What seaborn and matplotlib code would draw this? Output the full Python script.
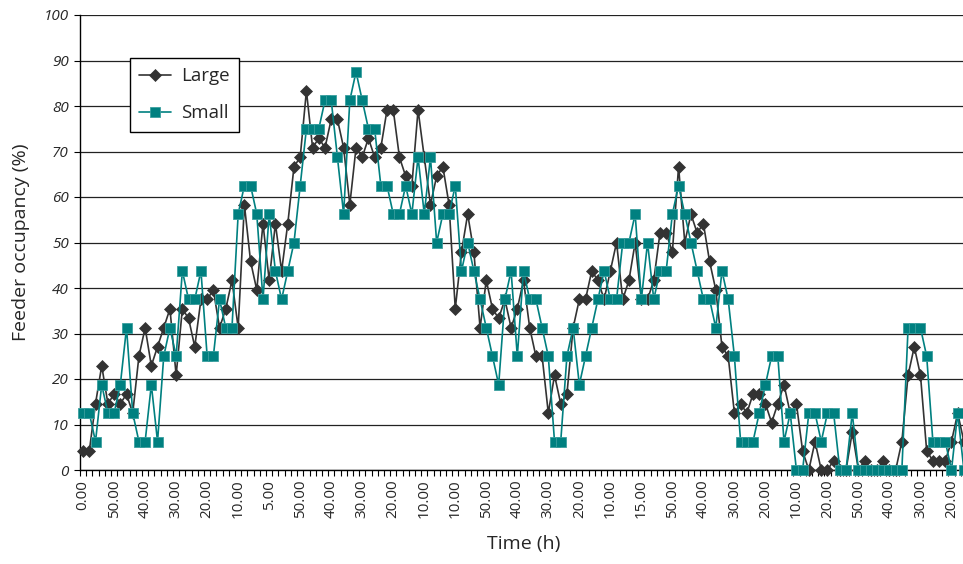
import matplotlib
matplotlib.use("Agg")
import matplotlib.pyplot as plt
import seaborn as sns
import pandas as pd
import numpy as np

# feeder occupancy (%) per time slot
large = [4.17, 4.17, 14.58, 22.92, 14.58, 16.67, 14.58, 16.67, 12.5, 25,
         31.25, 22.92, 27.08, 31.25, 35.42, 20.83, 35.42, 33.33, 27.08, 37.5,
         37.5, 39.58, 31.25, 35.42, 41.67, 31.25, 58.33, 45.83, 39.58, 54.17,
         41.67, 54.17, 43.75, 54.17, 66.67, 68.75, 83.33, 70.83, 72.92, 70.83,
         77.08, 77.08, 70.83, 58.33, 70.83, 68.75, 72.92, 68.75, 70.83, 79.17,
         79.17, 68.75, 64.58, 62.5, 79.17, 68.75, 58.33, 64.58, 66.67, 58.33,
         35.42, 47.92, 56.25, 47.92, 31.25, 41.67, 35.42, 33.33, 37.5, 31.25,
         35.42, 41.67, 31.25, 25, 25, 12.5, 20.83, 14.58, 16.67, 31.25,
         37.5, 37.5, 43.75, 41.67, 37.5, 43.75, 50, 37.5, 41.67, 50,
         37.5, 37.5, 41.67, 52.08, 52.08, 47.92, 66.67, 50, 56.25, 52.08,
         54.17, 45.83, 39.58, 27.08, 25, 12.5, 14.58, 12.5, 16.67, 16.67,
         14.58, 10.42, 14.58, 18.75, 12.5, 14.58, 4.17, 0, 6.25, 0,
         0, 2.08, 0, 0, 8.33, 0, 2.08, 0, 0, 2.08,
         0, 0, 6.25, 20.83, 27.08, 20.83, 4.17, 2.08, 2.08, 2.08,
         6.25, 12.5, 6.25]
small = [12.5, 12.5, 6.25, 18.75, 12.5, 12.5, 18.75, 31.25, 12.5, 6.25,
         6.25, 18.75, 6.25, 25, 31.25, 25, 43.75, 37.5, 37.5, 43.75,
         25, 25, 37.5, 31.25, 31.25, 56.25, 62.5, 62.5, 56.25, 37.5,
         56.25, 43.75, 37.5, 43.75, 50, 62.5, 75, 75, 75, 81.25,
         81.25, 68.75, 56.25, 81.25, 87.5, 81.25, 75, 75, 62.5, 62.5,
         56.25, 56.25, 62.5, 56.25, 68.75, 56.25, 68.75, 50, 56.25, 56.25,
         62.5, 43.75, 50, 43.75, 37.5, 31.25, 25, 18.75, 37.5, 43.75,
         25, 43.75, 37.5, 37.5, 31.25, 25, 6.25, 6.25, 25, 31.25,
         18.75, 25, 31.25, 37.5, 43.75, 37.5, 37.5, 50, 50, 56.25,
         37.5, 50, 37.5, 43.75, 43.75, 56.25, 62.5, 56.25, 50, 43.75,
         37.5, 37.5, 31.25, 43.75, 37.5, 25, 6.25, 6.25, 6.25, 12.5,
         18.75, 25, 25, 6.25, 12.5, 0, 0, 12.5, 12.5, 6.25,
         12.5, 12.5, 0, 0, 12.5, 0, 0, 0, 0, 0,
         0, 0, 0, 31.25, 31.25, 31.25, 25, 6.25, 6.25, 6.25,
         0, 12.5, 0]
time_labels = ["0.00", "50.00", "40.00", "30.00", "20.00", "10.00", "5.00",
               "50.00", "40.00", "30.00", "20.00", "10.00", "10.00", "50.00",
               "40.00", "30.00", "20.00", "10.00", "15.00", "50.00", "40.00",
               "30.00", "20.00", "10.00", "20.00", "50.00", "40.00", "30.00",
               "20.00"]

sns.set_theme(style="white")
plt.rcParams['font.family'] = ['Open Sans', 'DejaVu Sans']

n = len(large)
df = pd.DataFrame({"slot": np.arange(n), "Large": large, "Small": small})

fig = plt.figure(figsize=(9.63, 5.64), dpi=100)
# plot area runs a little past the right edge, like the reference crop
ax = fig.add_axes([80 / 963, 94 / 564, 887 / 963, 455 / 564])

sns.lineplot(data=df, x="slot", y="Large", ax=ax, color="#333333", marker="D",
             markersize=6.3, markeredgecolor="#333333", markeredgewidth=0.5,
             linewidth=1.2, label="Large", clip_on=False, zorder=3)
sns.lineplot(data=df, x="slot", y="Small", ax=ax, color="#008080", marker="s",
             markersize=6.5, markeredgecolor="#3a9f9f", markeredgewidth=0.6,
             linewidth=1.2, label="Small", clip_on=False, zorder=4)

ax.set_xlim(-0.5, n - 0.5)
ax.set_ylim(0, 100)
ax.set_yticks(range(0, 101, 10))
ax.set_yticklabels([str(v) for v in range(0, 101, 10)], fontsize=11, style="italic")
ax.yaxis.grid(True, color="#222222", linewidth=0.9)
ax.set_axisbelow(True)

ax.set_xticks(np.arange(0, n, 5))
ax.set_xticklabels(time_labels, rotation=90, fontsize=11)
ax.set_xticks(np.arange(-0.5, n, 1), minor=True)
ax.tick_params(axis="x", which="major", length=0, pad=7)
ax.tick_params(axis="x", which="minor", length=4, width=0.8, color="black", direction="out", bottom=True)
ax.tick_params(axis="y", which="major", length=4, width=0.8, color="black", direction="out", left=True, pad=4)

for s in ["top", "right"]:
    ax.spines[s].set_visible(False)
for s in ["left", "bottom"]:
    ax.spines[s].set_color("black")
    ax.spines[s].set_linewidth(1)

ax.set_xlabel("Time (h)", fontsize=14, labelpad=12)
ax.set_ylabel("Feeder occupancy (%)", fontsize=14, labelpad=10)

leg = ax.legend(loc="upper left", bbox_to_anchor=(50 / 887, (470 - 58) / 455),
                borderaxespad=0, frameon=True, fancybox=False, framealpha=1,
                edgecolor="black", fontsize=13.5, handlelength=1.7,
                borderpad=0.5, labelspacing=1.0, handletextpad=0.5)
leg.get_frame().set_linewidth(1)

fig.savefig("out.png", dpi=100)
